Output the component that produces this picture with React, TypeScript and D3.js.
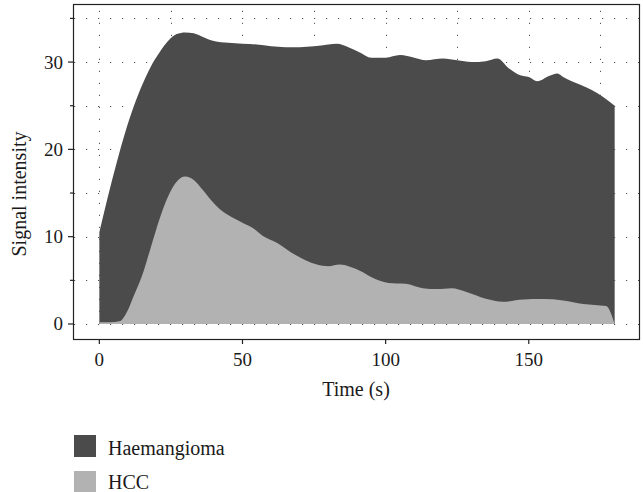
import React, { useEffect, useRef } from 'react';
import * as d3 from 'd3';

// Time-intensity curves, values
const haemTime = [0, 3, 6, 9, 12, 15, 18, 21, 24, 27, 30, 33, 36, 40, 45, 50, 55, 60, 65, 70, 75, 80, 83, 87, 91, 95, 100, 105, 110, 114, 120, 125, 130, 135, 139, 143, 147, 150, 153, 157, 160, 162, 165, 168, 172, 176, 180];
const haemValues = [10.5, 14.6, 18.4, 21.9, 24.9, 27.4, 29.5, 31.1, 32.4, 33.2, 33.4, 33.3, 32.9, 32.4, 32.2, 32.1, 32.0, 31.8, 31.7, 31.7, 31.8, 32.0, 32.1, 31.7, 31.1, 30.5, 30.5, 30.8, 30.5, 30.2, 30.4, 30.2, 30.0, 30.1, 30.4, 29.3, 28.5, 28.3, 27.8, 28.4, 28.7, 28.3, 27.8, 27.4, 26.8, 26.0, 25.0];

const hccTime = [0, 4, 7, 10, 12, 15, 18, 21, 24, 27, 30, 33, 36, 39, 43, 47, 50, 54, 57, 62, 67, 72, 76, 80, 84, 88, 91, 96, 101, 107, 113, 118, 123, 128, 135, 141, 148, 155, 162, 169, 177, 180];
const hccValues = [0.2, 0.2, 0.3, 1.6, 3.2, 5.6, 8.8, 12.0, 14.6, 16.3, 16.9, 16.5, 15.4, 14.2, 12.9, 12.1, 11.6, 10.9, 10.1, 9.3, 8.2, 7.3, 6.8, 6.6, 6.8, 6.5, 6.1, 5.2, 4.7, 4.6, 4.1, 4.0, 4.1, 3.7, 2.9, 2.55, 2.8, 2.85, 2.7, 2.3, 2.05, 0];

const xTicks = [0, 50, 100, 150];
const yTicks = [0, 10, 20, 30];
const yMinorTicks = [5, 15, 25, 35];
const xGrid = [0, 25, 50, 75, 100, 125, 150, 175];
const yGrid = [0, 5, 10, 15, 20, 25, 30, 35];

const seriesNames = ['Haemangioma', 'HCC'];
const seriesColors = ['#4b4b4b', '#b2b2b2'];

const FONT = '"Liberation Serif", "DejaVu Serif", serif';

const App = () => {
    const svgRef = useRef<SVGSVGElement>(null);

    useEffect(() => {
        if (!svgRef.current) return;
        const svg = d3.select(svgRef.current);
        svg.selectAll('*').remove();

        const left = 73, right = 639, top = 4, bottom = 339;

        const x = d3.scaleLinear().domain([-9.2, 188.5]).range([left, right]);
        const y = d3.scaleLinear().domain([-1.72, 36.65]).range([bottom, top]);

        // Dotted grid
        const grid = svg.append('g')
            .attr('stroke', '#555')
            .attr('stroke-width', 1)
            .attr('stroke-dasharray', '1.2 10.8');

        grid.selectAll('line.v')
            .data(xGrid)
            .enter()
            .append('line')
            .attr('x1', d => Math.round(x(d)) + 0.5)
            .attr('x2', d => Math.round(x(d)) + 0.5)
            .attr('y1', y(0))
            .attr('y2', top);

        grid.selectAll('line.h')
            .data(yGrid)
            .enter()
            .append('line')
            .attr('y1', d => Math.round(y(d)) + 0.5)
            .attr('y2', d => Math.round(y(d)) + 0.5)
            .attr('x1', left + 1)
            .attr('x2', right);

        // Areas
        const haemData = haemTime.map((t, i) => [t, haemValues[i]] as [number, number]);
        const hccData = hccTime.map((t, i) => [t, hccValues[i]] as [number, number]);

        const area = d3.area<[number, number]>()
            .x(d => x(d[0]))
            .y0(y(0))
            .y1(d => y(d[1]))
            .curve(d3.curveMonotoneX);

        svg.append('path')
            .attr('d', area(haemData))
            .attr('fill', seriesColors[0]);

        svg.append('path')
            .attr('d', area(hccData))
            .attr('fill', seriesColors[1]);

        // Frame
        svg.append('rect')
            .attr('x', left + 0.5)
            .attr('y', top + 0.5)
            .attr('width', right - left)
            .attr('height', bottom - top)
            .attr('fill', 'none')
            .attr('stroke', '#222')
            .attr('stroke-width', 1.2);

        // Ticks
        const axisG = svg.append('g').attr('stroke', '#222').attr('stroke-width', 1.2);
        yTicks.forEach(v => {
            axisG.append('line')
                .attr('x1', left - 5).attr('x2', left)
                .attr('y1', y(v)).attr('y2', y(v));
        });
        yMinorTicks.forEach(v => {
            axisG.append('line')
                .attr('x1', left - 3).attr('x2', left)
                .attr('y1', y(v)).attr('y2', y(v));
        });
        xTicks.forEach(v => {
            axisG.append('line')
                .attr('x1', x(v)).attr('x2', x(v))
                .attr('y1', bottom).attr('y2', bottom + 5);
        });

        svg.selectAll('text.ytick')
            .data(yTicks)
            .enter()
            .append('text')
            .attr('x', left - 10)
            .attr('y', d => y(d))
            .attr('dy', '0.34em')
            .attr('text-anchor', 'end')
            .attr('font-family', FONT)
            .attr('font-size', '19px')
            .attr('fill', '#1a1a1a')
            .text(d => d);

        svg.selectAll('text.xtick')
            .data(xTicks)
            .enter()
            .append('text')
            .attr('x', d => x(d))
            .attr('y', 366)
            .attr('text-anchor', 'middle')
            .attr('font-family', FONT)
            .attr('font-size', '19px')
            .attr('fill', '#1a1a1a')
            .text(d => d);

        // Axis titles
        svg.append('text')
            .attr('x', (left + right) / 2)
            .attr('y', 396)
            .attr('text-anchor', 'middle')
            .attr('font-family', FONT)
            .attr('font-size', '20px')
            .attr('fill', '#1a1a1a')
            .text('Time (s)');

        svg.append('text')
            .attr('transform', 'translate(26, 194) rotate(-90)')
            .attr('text-anchor', 'middle')
            .attr('font-family', FONT)
            .attr('font-size', '20px')
            .attr('fill', '#1a1a1a')
            .text('Signal intensity');

        // Legend
        const legend = svg.append('g');
        seriesNames.forEach((name, i) => {
            legend.append('rect')
                .attr('x', 74)
                .attr('y', 435 + i * 36)
                .attr('width', 22)
                .attr('height', 22)
                .attr('fill', seriesColors[i]);
            legend.append('text')
                .attr('x', 108)
                .attr('y', 454.5 + i * 34)
                .attr('font-family', FONT)
                .attr('font-size', '20px')
                .attr('fill', '#1a1a1a')
                .text(name);
        });
    }, []);

    return (
        <svg
            ref={svgRef}
            width={643}
            height={492}
            viewBox="0 0 643 492"
            style={{ position: 'absolute', left: 0, top: 0, background: '#fff' }}
        />
    );
};

export default App;
